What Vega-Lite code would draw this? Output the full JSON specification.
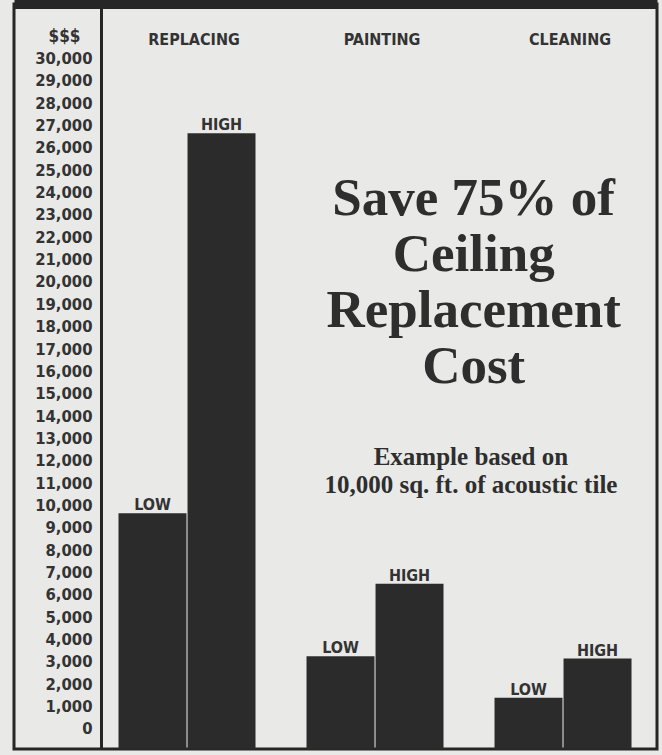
{
  "$schema": "https://vega.github.io/schema/vega-lite/v6.json",
  "autosize": {"type": "none"},
  "padding": {"left": 14, "top": 4, "right": 5, "bottom": 6},
  "width": 643,
  "height": 745,
  "background": "#e9e9e7",
  "config": {
    "view": {"stroke": "#262626", "strokeWidth": 3, "fill": "#e9e9e7"},
    "axis": {"labelOverlap": false, "labelFlush": false, "labelBound": false}
  },
  "datasets": {
    "costs": [
      {"task": "REPLACING", "level": "LOW", "cost": 9650},
      {"task": "REPLACING", "level": "HIGH", "cost": 26650},
      {"task": "PAINTING", "level": "LOW", "cost": 3250},
      {"task": "PAINTING", "level": "HIGH", "cost": 6500},
      {"task": "CLEANING", "level": "LOW", "cost": 1400},
      {"task": "CLEANING", "level": "HIGH", "cost": 3150}
    ],
    "headline": [{"note": "Save 75% of\nCeiling\nReplacement\nCost"}],
    "subhead": [{"note": "Example based on\n10,000 sq. ft. of acoustic tile"}]
  },
  "resolve": {"axis": {"x": "independent", "y": "independent"}},
  "layer": [
    {
      "data": {"name": "costs"},
      "encoding": {
        "x": {
          "field": "task",
          "type": "nominal",
          "sort": ["REPLACING", "PAINTING", "CLEANING"],
          "scale": {"paddingInner": 0.2713, "paddingOuter": 0.3457, "align": 0.804},
          "axis": {
            "orient": "top",
            "title": null,
            "domain": true,
            "domainColor": "#262626",
            "domainWidth": 9,
            "ticks": false,
            "labelAngle": 0,
            "labelPadding": -35,
            "labelBaseline": "middle",
            "labelOffset": 7,
            "labelFont": "DejaVu Sans Condensed, Liberation Sans Narrow, Roboto",
            "labelFontSize": 16,
            "labelFontWeight": "bold",
            "labelColor": "#333333"
          }
        },
        "xOffset": {
          "field": "level",
          "type": "nominal",
          "sort": ["LOW", "HIGH"],
          "scale": {"paddingInner": 0.015, "paddingOuter": 0}
        },
        "y": {
          "field": "cost",
          "type": "quantitative",
          "scale": {"domain": [-895, 32438], "nice": false, "zero": false},
          "axis": {
            "orient": "left",
            "offset": -87,
            "values": [0, 1000, 2000, 3000, 4000, 5000, 6000, 7000, 8000, 9000, 10000, 11000, 12000, 13000, 14000, 15000, 16000, 17000, 18000, 19000, 20000, 21000, 22000, 23000, 24000, 25000, 26000, 27000, 28000, 29000, 30000],
            "format": ",d",
            "grid": false,
            "ticks": false,
            "domain": true,
            "domainColor": "#262626",
            "domainWidth": 3,
            "labelPadding": 9,
            "labelOverlap": false,
            "labelFlush": false,
            "labelFont": "DejaVu Sans Condensed, Liberation Sans Narrow, Roboto",
            "labelFontSize": 16.5,
            "labelFontWeight": "bold",
            "labelColor": "#333333",
            "title": "$$$",
            "titleAngle": 0,
            "titleX": -37,
            "titleY": 32,
            "titleAlign": "center",
            "titleBaseline": "middle",
            "titleFont": "DejaVu Sans Condensed, Liberation Sans Narrow, Roboto",
            "titleFontSize": 17,
            "titleFontWeight": "bold",
            "titleColor": "#333333"
          }
        }
      },
      "layer": [
        {
          "mark": {"type": "bar", "color": "#2b2b2b"},
          "encoding": {"y2": {"datum": -895}}
        },
        {
          "mark": {
            "type": "text",
            "baseline": "alphabetic",
            "dy": -3,
            "font": "DejaVu Sans Condensed, Liberation Sans Narrow, Roboto",
            "fontSize": 16,
            "fontWeight": "bold",
            "color": "#333333"
          },
          "encoding": {"text": {"field": "level"}}
        }
      ]
    },
    {
      "data": {"name": "headline"},
      "mark": {
        "type": "text",
        "align": "center",
        "baseline": "alphabetic",
        "lineBreak": "\n",
        "lineHeight": 56,
        "font": "Liberation Serif",
        "fontSize": 53,
        "fontWeight": "bold",
        "color": "#2e2e2e"
      },
      "encoding": {
        "x": {"datum": "PAINTING", "bandPosition": 1.22, "axis": null},
        "y": {"datum": 23000, "axis": null},
        "text": {"field": "note"}
      }
    },
    {
      "data": {"name": "subhead"},
      "mark": {
        "type": "text",
        "align": "center",
        "baseline": "alphabetic",
        "lineBreak": "\n",
        "lineHeight": 28,
        "font": "Liberation Serif",
        "fontSize": 25,
        "fontWeight": "bold",
        "color": "#2e2e2e"
      },
      "encoding": {
        "x": {"datum": "PAINTING", "bandPosition": 1.2, "axis": null},
        "y": {"datum": 11800, "axis": null},
        "text": {"field": "note"}
      }
    }
  ]
}
